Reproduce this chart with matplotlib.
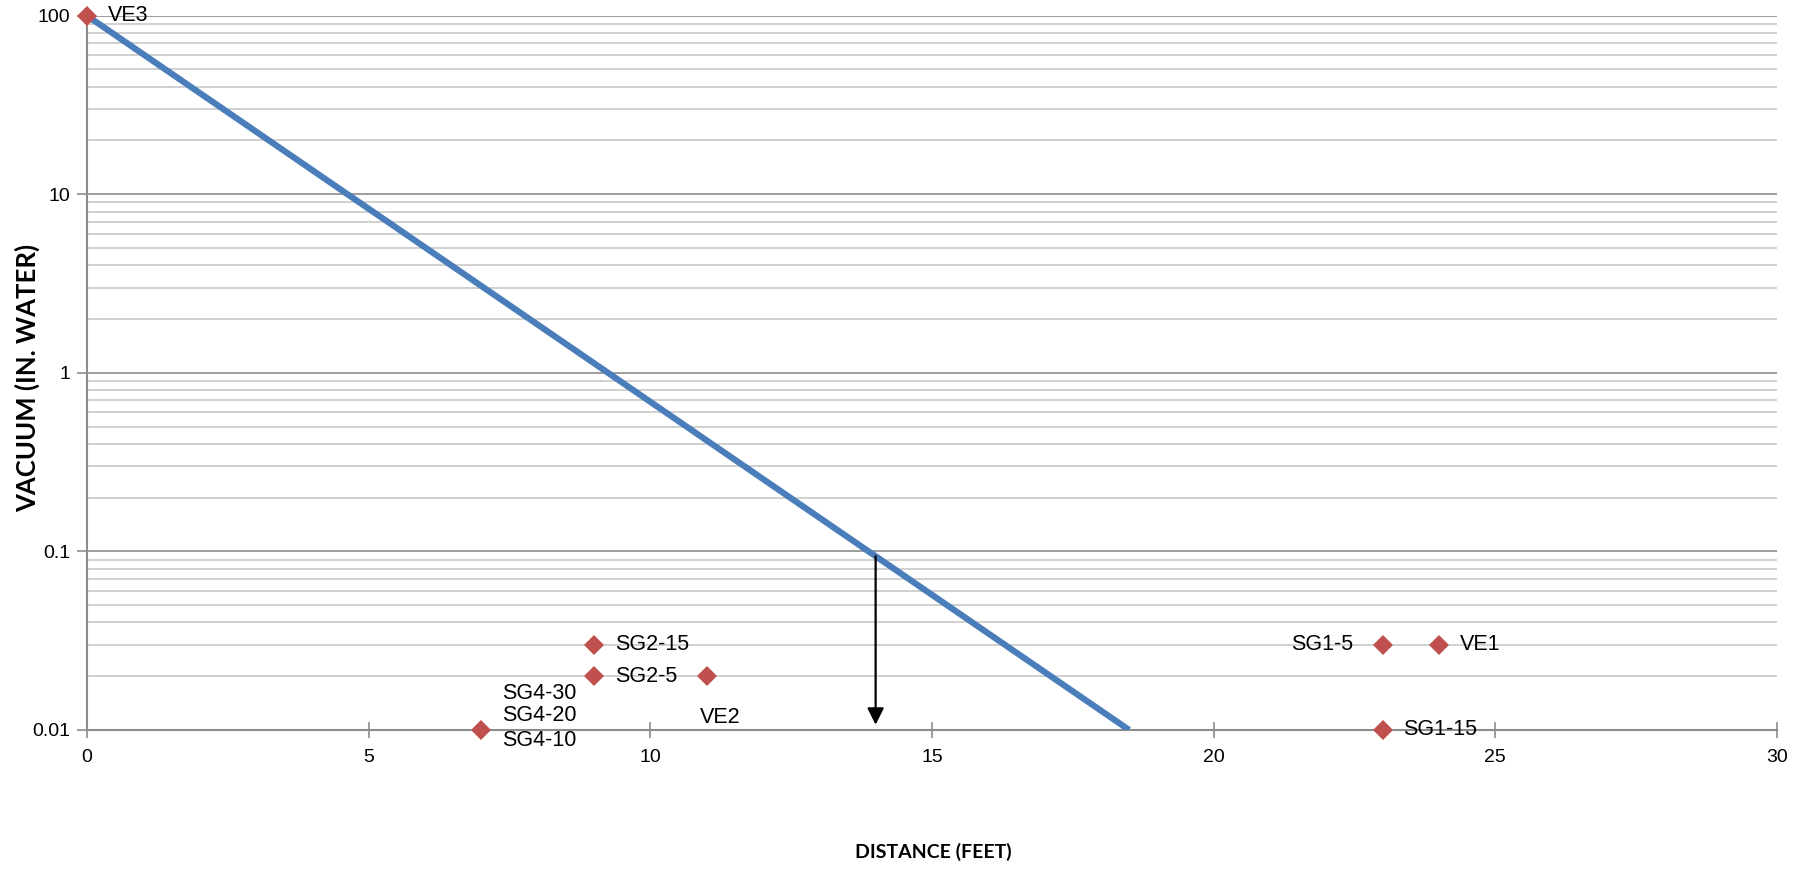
import matplotlib
matplotlib.use("Agg")
import matplotlib.pyplot as plt
from matplotlib.ticker import FixedLocator, LogLocator, NullFormatter

# Trend line (vacuum vs distance)
line_x = [0, 18.5]
line_y = [100, 0.01]

# Observation points
point_names = ["VE3", "SG2-15", "SG2-5", "VE2", "SG4-10", "SG1-5", "VE1", "SG1-15"]
point_x = [0, 9, 9, 11, 7, 23, 24, 23]
point_y = [100, 0.03, 0.02, 0.02, 0.01, 0.03, 0.03, 0.01]

# Extra stacked labels at SG4 location
sg4_labels = ["SG4-30", "SG4-20", "SG4-10"]

# Radius-of-influence arrow
arrow_x = 14
arrow_top = 0.094
arrow_bottom = 0.0107

x_ticks = [0, 5, 10, 15, 20, 25, 30]
y_ticks = [0.01, 0.1, 1, 10, 100]
y_tick_labels = ["0.01", "0.1", "1", "10", "100"]

plt.rcParams['font.family'] = ['Liberation Sans', 'DejaVu Sans']

fig = plt.figure(figsize=(18.10, 8.69), dpi=100)
ax = fig.add_axes([0.048, 0.160, 0.9338, 0.822])

BLUE = '#4A7EBB'
RED = '#C0504D'
GRID_MAJ = '#8C8C8C'
GRID_MIN = '#C8C8C8'

ax.set_yscale('log')
ax.set_xlim(0, 30)
ax.set_ylim(0.01, 100)

ax.yaxis.set_major_locator(FixedLocator(y_ticks))
ax.set_yticklabels(y_tick_labels)
ax.yaxis.set_minor_locator(LogLocator(base=10, subs=range(2, 10)))
ax.yaxis.set_minor_formatter(NullFormatter())
ax.set_xticks(x_ticks)

ax.grid(True, which='major', axis='y', color=GRID_MAJ, lw=1.2)
ax.grid(True, which='minor', axis='y', color=GRID_MIN, lw=1.2)
ax.set_axisbelow(True)

for s in ['top', 'right']:
    ax.spines[s].set_visible(False)
for s in ['left', 'bottom']:
    ax.spines[s].set_color(GRID_MAJ)
    ax.spines[s].set_linewidth(1.5)

ax.tick_params(axis='x', which='major', direction='inout', length=12, width=1.2,
               color=GRID_MAJ, labelsize=14, pad=8)
ax.tick_params(axis='y', which='major', direction='out', length=7, width=1.2,
               color=GRID_MAJ, labelsize=14, pad=5)
ax.tick_params(axis='y', which='minor', length=0)

ax.plot(line_x, line_y, color=BLUE, lw=4.5, solid_capstyle='butt', zorder=3)

ax.plot(point_x, point_y, linestyle='none', marker='D', ms=10.5, color=RED,
        markeredgewidth=0, clip_on=False, zorder=4)

fs = 15.5
# label placements (offset in points, alignment)
offsets = {
    "VE3": ((15, 0), 'left'),
    "SG2-15": ((15, 0), 'left'),
    "SG2-5": ((15, 0), 'left'),
    "VE2": ((-5, -29.5), 'left'),
    "SG1-5": ((-21, 0), 'right'),
    "VE1": ((15, 0), 'left'),
    "SG1-15": ((15, 0), 'left'),
}
for name, x, y in zip(point_names, point_x, point_y):
    if name not in offsets:
        continue
    (dx, dy), ha = offsets[name]
    ax.annotate(name, (x, y), xytext=(dx, dy), textcoords='offset points',
                ha=ha, va='center', fontsize=fs, color='black', annotation_clip=False)

sg4_x, sg4_y = point_x[4], point_y[4]
for lab, dy in zip(sg4_labels, [26, 10.5, -7.5]):
    ax.annotate(lab, (sg4_x, sg4_y), xytext=(15, dy), textcoords='offset points',
                ha='left', va='center', fontsize=fs, color='black', annotation_clip=False)

ax.annotate('', xy=(arrow_x, arrow_bottom), xytext=(arrow_x, arrow_top),
            arrowprops=dict(arrowstyle='-|>,head_length=0.5,head_width=0.25',
                            color='black', lw=1.6, shrinkA=0, shrinkB=0,
                            mutation_scale=20), zorder=5)

fig.text(0.5155, 0.020, 'DISTANCE (FEET)', ha='center', va='center',
         fontsize=14, fontweight='bold', family=['Lato', 'DejaVu Sans'])
fig.text(0.0149, 0.565, 'VACUUM (IN. WATER)', ha='center', va='center',
         rotation=90, fontsize=18.5, fontweight='bold', family=['Lato', 'DejaVu Sans'])

fig.savefig('out.png', dpi=100)
